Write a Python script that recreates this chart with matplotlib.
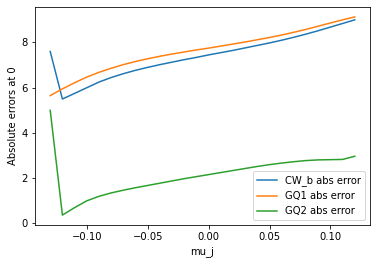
import numpy as np
import matplotlib
matplotlib.use("Agg")
import matplotlib.pyplot as plt

mu_j = [-0.13, -0.12, -0.11, -0.10, -0.09, -0.08, -0.07, -0.06, -0.05, -0.04,
        -0.03, -0.02, -0.01, 0.00, 0.01, 0.02, 0.03, 0.04, 0.05, 0.06,
        0.07, 0.08, 0.09, 0.10, 0.11, 0.12]

cw_b = [7.6, 5.5, 5.75, 6.0, 6.25, 6.45, 6.62, 6.77, 6.9, 7.02,
        7.13, 7.24, 7.34, 7.45, 7.55, 7.65, 7.76, 7.87, 7.98, 8.1,
        8.23, 8.37, 8.52, 8.68, 8.84, 9.0]

gq1 = [5.65, 5.95, 6.22, 6.47, 6.68, 6.86, 7.02, 7.16, 7.28, 7.39,
       7.49, 7.58, 7.67, 7.75, 7.84, 7.93, 8.02, 8.12, 8.22, 8.33,
       8.45, 8.58, 8.72, 8.86, 9.0, 9.13]

gq2 = [5.0, 0.37, 0.7, 1.0, 1.2, 1.35, 1.47, 1.58, 1.68, 1.78,
       1.88, 1.98, 2.07, 2.16, 2.25, 2.34, 2.43, 2.52, 2.6, 2.67,
       2.73, 2.78, 2.81, 2.82, 2.83, 2.97]

fig = plt.figure(figsize=(376 / 72, 263 / 72), dpi=72)
ax = fig.add_axes([35 / 376, 1 - 225 / 263, 335 / 376, 218 / 263])
ax.plot(mu_j, cw_b, label="CW_b abs error")
ax.plot(mu_j, gq1, label="GQ1 abs error")
ax.plot(mu_j, gq2, label="GQ2 abs error")
ax.set_xlabel("mu_j")
ax.set_ylabel("Absolute errors at 0")
ax.legend(loc="lower right")
fig.savefig("out.png", dpi=72)
